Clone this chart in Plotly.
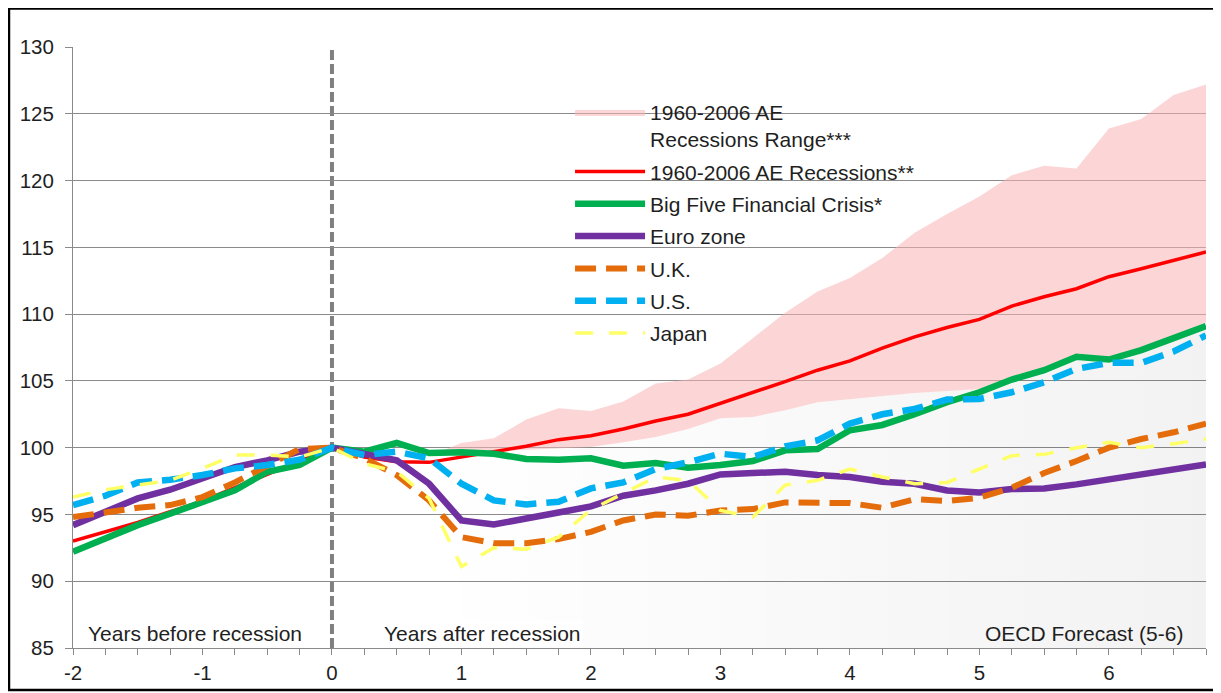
import plotly.graph_objects as go

quarters = [-2, -1.75, -1.5, -1.25, -1, -0.75, -0.5, -0.25, 0, 0.25, 0.5, 0.75,
            1, 1.25, 1.5, 1.75, 2, 2.25, 2.5, 2.75, 3, 3.25, 3.5, 3.75,
            4, 4.25, 4.5, 4.75, 5, 5.25, 5.5, 5.75, 6, 6.25, 6.5, 6.75]

ae_recessions = [93.0, 93.7, 94.4, 95.2, 96.0, 97.0, 98.0, 99.0, 100.0, 99.3, 98.95, 98.9,
                 99.3, 99.7, 100.1, 100.6, 100.9, 101.4, 102.0, 102.5, 103.3, 104.1, 104.95, 105.8,
                 106.5, 107.45, 108.3, 109.0, 109.6, 110.6, 111.3, 111.9, 112.8, 113.4, 114.05, 114.65]

big_five = [92.2, 93.2, 94.2, 95.05, 95.95, 96.8, 98.2, 98.7, 100.0, 99.7, 100.35, 99.6,
            99.65, 99.55, 99.15, 99.1, 99.2, 98.65, 98.85, 98.5, 98.7, 99.0, 99.8, 99.9,
            101.3, 101.7, 102.5, 103.4, 104.15, 105.1, 105.8, 106.8, 106.6, 107.3, 108.2, 109.1]

euro_zone = [94.2, 95.2, 96.2, 96.85, 97.75, 98.55, 99.05, 99.7, 100.0, 99.55, 99.05, 97.3,
             94.55, 94.25, 94.65, 95.15, 95.6, 96.4, 96.8, 97.3, 98.0, 98.1, 98.2, 97.95,
             97.8, 97.45, 97.3, 96.8, 96.65, 96.9, 96.95, 97.25, 97.65, 98.0, 98.4, 98.75]

uk = [94.8, 95.15, 95.5, 95.7, 96.3, 97.4, 98.7, 99.9, 100.0, 99.2, 97.95, 96.05,
      93.3, 92.85, 92.85, 93.15, 93.7, 94.55, 95.0, 94.9, 95.3, 95.4, 95.9, 95.85,
      95.85, 95.5, 96.15, 96.0, 96.25, 97.0, 98.1, 99.0, 100.0, 100.65, 101.15, 101.8]

us = [95.7, 96.4, 97.4, 97.6, 97.95, 98.45, 98.7, 99.1, 100.0, 99.45, 99.7, 99.2,
      97.3, 96.05, 95.75, 95.95, 96.95, 97.4, 98.4, 98.9, 99.55, 99.3, 100.1, 100.55,
      101.8, 102.5, 102.9, 103.6, 103.65, 104.15, 104.9, 105.9, 106.35, 106.35, 107.2, 108.4]

japan = [96.3, 96.85, 97.2, 97.55, 98.45, 99.45, 99.45, 99.3, 100.0, 98.8, 98.2, 96.2,
         91.1, 92.5, 92.4, 93.3, 95.35, 96.55, 97.8, 97.55, 95.3, 94.8, 97.2, 97.55,
         98.4, 97.8, 97.3, 97.4, 98.4, 99.4, 99.5, 100.0, 100.4, 100.0, 100.3, 100.65]

range_x = quarters[11:]
range_low = [99.4, 99.6, 99.75, 99.85, 99.95, 100.05, 100.4, 100.8, 101.4, 102.2, 102.3, 102.8, 103.4,
             103.65, 103.85, 104.1, 104.25, 104.4, 105.35, 105.9, 107.0, 106.8, 107.45, 108.3, 109.4]
range_high = [99.4, 100.35, 100.7, 102.1, 102.95, 102.75, 103.45, 104.8, 105.1, 106.3, 108.2, 110.1, 111.7,
              112.7, 114.2, 116.1, 117.5, 118.8, 120.4, 121.1, 120.9, 123.9, 124.6, 126.4, 127.2]

tick_vals = quarters
tick_text = [str(int(q)) if float(q).is_integer() else "" for q in quarters]

FONT = "Liberation Sans, Arial, sans-serif"
TXT = "#1f1f1f"

fig = go.Figure()

# lower bound of the range, with faint grey gradient below it
fig.add_trace(go.Scatter(
    x=range_x, y=range_low, mode="lines", line=dict(width=0),
    fill="tozeroy",
    fillgradient=dict(type="horizontal",
                      colorscale=[[0, "rgba(0,0,0,0)"], [1, "rgba(0,0,0,0.05)"]]),
    showlegend=False, hoverinfo="skip"))

fig.add_trace(go.Scatter(
    x=range_x, y=range_high, mode="lines", line=dict(width=0),
    fill="tonexty", fillcolor="rgba(250,180,180,0.55)",
    name="1960-2006 AE<br>Recessions Range***", legendgroup="g1"))

series = [
    ("1960-2006 AE Recessions**", ae_recessions, "#FF0000", 3.5, "solid"),
    ("Big Five Financial Crisis*", big_five, "#00B050", 6.5, "solid"),
    ("Euro zone", euro_zone, "#7030A0", 6.5, "solid"),
    ("U.K.", uk, "#E46C0A", 6, "21px,10px"),
    ("U.S.", us, "#00B0F0", 6.5, "21px,10px"),
    ("Japan", japan, "#FFFF66", 3.5, "18px,16px"),
]
for i, (name, ys, col, w, dash) in enumerate(series):
    fig.add_trace(go.Scatter(
        x=quarters, y=ys, mode="lines", name=name,
        line=dict(color=col, width=w, dash=dash),
        legendgroup="g%d" % (i + 2)))

fig.add_shape(type="line", xref="x", yref="y", x0=0, x1=0, y0=85, y1=130,
              line=dict(color="#808080", width=4, dash="10px,4px"), layer="below")

# outer border
fig.add_shape(type="rect", xref="paper", yref="paper",
              x0=-0.0565, x1=1.0088, y0=-0.0699, y1=1.0640,
              line=dict(color="black", width=2.5), layer="above")

ann_font = dict(family=FONT, size=21, color=TXT)
fig.add_annotation(x=-1.9, y=86.1, text="Years before recession", showarrow=False,
                   xanchor="left", yanchor="middle", font=ann_font)
fig.add_annotation(x=0.39, y=86.1, text="Years after recession", showarrow=False,
                   xanchor="left", yanchor="middle", font=ann_font, bgcolor="white")
fig.add_annotation(x=6.59, y=86.1, text="OECD Forecast (5-6)", showarrow=False,
                   xanchor="right", yanchor="middle", font=ann_font)

fig.update_layout(
    width=1213, height=685,
    margin=dict(l=65, r=15, t=39, b=45),
    paper_bgcolor="white", plot_bgcolor="white",
    font=dict(family=FONT, size=20, color=TXT),
    legend=dict(x=0.4387, y=0.9255, xanchor="left", yanchor="top",
                bgcolor="rgba(0,0,0,0)", font=dict(family=FONT, size=21, color=TXT),
                traceorder="grouped", tracegroupgap=2, itemwidth=70, valign="top"),
    xaxis=dict(range=[-2, 6.75], tickmode="array", tickvals=tick_vals, ticktext=tick_text,
               showgrid=False, zeroline=False, showline=True, linecolor="#8a8a8a", linewidth=1,
               ticks="outside", ticklen=6, tickcolor="#8a8a8a", automargin=False,
               tickfont=dict(family=FONT, size=20.5, color=TXT)),
    yaxis=dict(range=[85, 130], dtick=5, showgrid=True, gridcolor="#8a8a8a", gridwidth=1,
               zeroline=False, showline=True, linecolor="#8a8a8a", linewidth=1,
               ticks="outside", ticklen=7, tickcolor="#8a8a8a", ticklabelstandoff=7,
               automargin=False,
               tickfont=dict(family=FONT, size=20.5, color=TXT)),
)

fig.write_html("out.html")
